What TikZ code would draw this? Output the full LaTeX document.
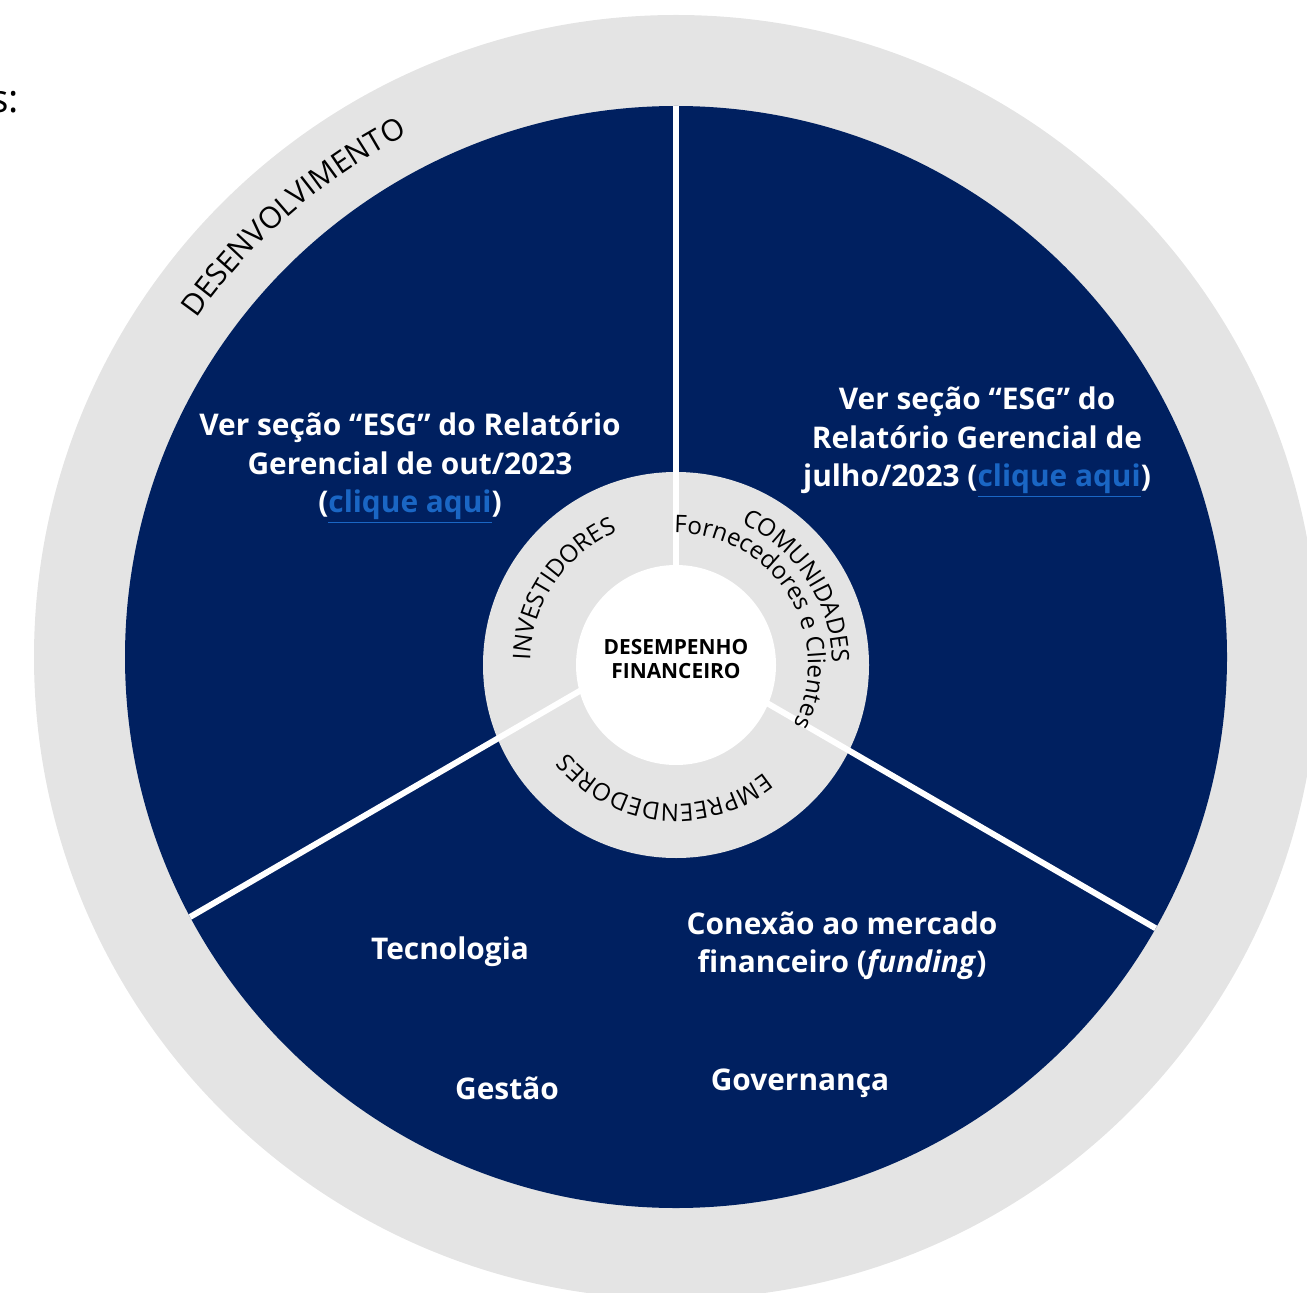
\documentclass[tikz,border=0pt]{standalone}
\usepackage{fontspec}
\setmainfont{Open Sans}
\usetikzlibrary{decorations.text}
\definecolor{NavyFill}{HTML}{002060}
\definecolor{RingGray}{HTML}{E4E4E4}
\definecolor{LinkBlue}{HTML}{1A66C4}
\newcommand{\linkaqui}{\textcolor{LinkBlue}{\underline{clique aqui}}}
\newcommand{\ringfont}{\fontsize{13.8}{16}\selectfont}
\newcommand{\outerfont}{\fontsize{17}{20}\selectfont}

\begin{document}
\begin{tikzpicture}[x=0.02cm, y=0.02cm,
bodytext/.style={text=white,font=\fontsize{17}{21.8}\selectfont\bfseries,align=center},
hubtext/.style={text=black,font=\fontsize{11.9}{13.7}\selectfont\bfseries,align=center},
divider/.style={white,line width=3.4pt},
ringtext/.style={decorate,decoration={text along path,text align=center,text color=black,text={#1}}}]
\useasboundingbox (0,0) rectangle (1307,-1293);
\clip (0,0) rectangle (1307,-1293);
\coordinate (mid) at (676,-657);
\coordinate (hub) at (676,-665);
% rings
\fill[RingGray] (mid) circle[radius=642];
\fill[NavyFill] (mid) circle[radius=551];
\fill[RingGray] (hub) circle[radius=193];
% dividers
\begin{scope}
\clip (mid) circle[radius=551];
\coordinate (cuttop) at (676,-60);
\coordinate (cutleft) at (140,-946);
\coordinate (cutright) at (1200,-954);
\draw[divider] (cuttop) -- (676,-600);
\draw[divider] (cutleft) -- (590,-685);
\draw[divider] (cutright) -- (760,-699);
\end{scope}
\fill[white] (hub) circle[radius=100];
% curved labels
\path[ringtext={|\outerfont|DESENVOLVIMENTO}] (mid) ++(171:587) arc[start angle=171,end angle=91,radius=587];
\path[ringtext={|\ringfont|INVESTIDORES}] (hub) ++(206:146) arc[start angle=206,end angle=86,radius=146];
\path[ringtext={|\ringfont|COMUNIDADES}] (hub) ++(93:156) arc[start angle=93,end angle=-27,radius=156];
\path[ringtext={|\ringfont|Fornecedores e Clientes}] (hub) ++(107:132) arc[start angle=107,end angle=-43,radius=132];
\path[ringtext={|\ringfont|EMPREENDEDORES}] (hub) ++(-26:139) arc[start angle=-26,end angle=-166,radius=139];
% texts
\node[hubtext] (perf) at (676,-659) {DESEMPENHO\\FINANCEIRO};
\node[bodytext] (esgout) at (410,-468) {Ver seção “ESG” do Relatório\\Gerencial de out/2023\\(\linkaqui)};
\node[bodytext] (esgjul) at (977,-442) {Ver seção “ESG” do\\Relatório Gerencial de\\julho/2023 (\linkaqui)};
\node[bodytext] (tecno) at (450,-952) {Tecnologia};
\node[bodytext] (funding) at (842,-946) {Conexão ao mercado\\financeiro (\textit{funding})};
\node[bodytext] (gestao) at (507,-1088) {Gestão};
\node[bodytext] (govern) at (800,-1083) {Governança};
\node[anchor=base east,font=\fontsize{22}{26}\selectfont] (cutword) at (25,-113) {s:};
\end{tikzpicture}
\end{document}
